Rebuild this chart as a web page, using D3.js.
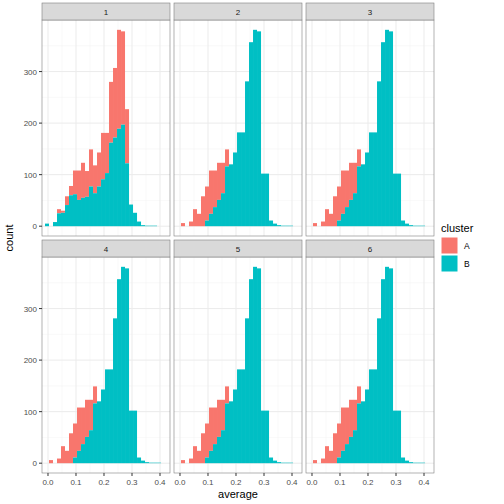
<!DOCTYPE html><html><head><meta charset="utf-8"><script src="https://cdn.jsdelivr.net/npm/d3@7"></script>
<style>body{margin:0;background:#fff}text{font-family:"Liberation Sans",Arial,sans-serif}</style></head><body><svg id="c" width="504" height="504"></svg>
<script>
const binStart = -0.0107, binWidth = 0.01429;
const panels = ["1","2","3","4","5","6"];
// per bin totals (A+B stacked) and B counts
const p1B = [5,0,8,25,26,41,60,62,51,55,57,77,64,77,91,103,162,172,189,197,122,42,26,9,2,1,1,1];
const p1T = [5,0,8,33,30,58,78,108,108,123,107,149,118,143,181,181,280,307,381,378,227,42,26,9,2,1,1,1];
const pxB = [0,0,0,0,0,0,0,11,24,37,51,64,116,120,143,182,182,281,357,381,378,102,102,11,5,2,1,1,1];
const pxT = [0,6,0,9,33,24,58,77,108,108,123,123,149,120,143,182,182,281,357,381,378,102,102,11,5,2,1,1,1];
const xTicks = [0,0.1,0.2,0.3,0.4];
const yTicks = [0,100,200,300];
const colA = "#F8766D", colB = "#00BFC4";

const svg = d3.select("#c");
const cols = [[42,170],[174,302],[306,434]];
const rows = [[3,20,236],[240,257,473]];
const x0 = d3.scaleLinear().domain([-0.0214,0.4357]);
const yS = r => d3.scaleLinear().domain([-19.05,400.05]).range([r[2],r[1]]);

panels.forEach((p,idx)=>{
  const c = cols[idx%3], r = rows[Math.floor(idx/3)];
  const x = x0.copy().range(c), y = yS(r);
  const g = svg.append("g");
  g.append("rect").attr("x",c[0]).attr("y",r[1]).attr("width",c[1]-c[0]).attr("height",r[2]-r[1]).attr("fill","#fff");
  // minor grid
  const minor = [0.05,0.15,0.25,0.35].concat([0.45]).filter(v=>x(v)<c[1]);
  minor.forEach(v=>g.append("line").attr("x1",x(v)).attr("x2",x(v)).attr("y1",r[1]).attr("y2",r[2]).attr("stroke","#F2F2F2").attr("stroke-width",0.5));
  [50,150,250,350].forEach(v=>g.append("line").attr("x1",c[0]).attr("x2",c[1]).attr("y1",y(v)).attr("y2",y(v)).attr("stroke","#F2F2F2").attr("stroke-width",0.5));
  xTicks.forEach(v=>g.append("line").attr("x1",x(v)).attr("x2",x(v)).attr("y1",r[1]).attr("y2",r[2]).attr("stroke","#EBEBEB"));
  yTicks.forEach(v=>g.append("line").attr("x1",c[0]).attr("x2",c[1]).attr("y1",y(v)).attr("y2",y(v)).attr("stroke","#EBEBEB"));
  const B = idx===0?p1B:pxB, T = idx===0?p1T:pxT;
  T.forEach((t,i)=>{
    const xa = x(binStart+i*binWidth), xb = x(binStart+(i+1)*binWidth);
    if(t>B[i]) g.append("rect").attr("x",xa).attr("width",xb-xa).attr("y",y(t)).attr("height",y(B[i])-y(t)).attr("fill",colA);
    if(B[i]>0) g.append("rect").attr("x",xa).attr("width",xb-xa).attr("y",y(B[i])).attr("height",y(0)-y(B[i])).attr("fill",colB);
  });
  g.append("rect").attr("x",c[0]).attr("y",r[1]).attr("width",c[1]-c[0]).attr("height",r[2]-r[1]).attr("fill","none").attr("stroke","#7F7F7F").attr("stroke-width",0.6);
  g.append("rect").attr("x",c[0]).attr("y",r[0]).attr("width",c[1]-c[0]).attr("height",r[1]-r[0]).attr("fill","#D9D9D9").attr("stroke","#7F7F7F").attr("stroke-width",0.6);
  g.append("text").attr("x",(c[0]+c[1])/2).attr("y",(r[0]+r[1])/2+3).attr("text-anchor","middle").attr("font-size",8).attr("fill","#1A1A1A").text(p);
  if(idx%3===0) yTicks.forEach(v=>{
    g.append("line").attr("x1",c[0]-3).attr("x2",c[0]).attr("y1",y(v)).attr("y2",y(v)).attr("stroke","#333");
    g.append("text").attr("x",c[0]-5).attr("y",y(v)+3).attr("text-anchor","end").attr("font-size",8).attr("fill","#4D4D4D").text(v);
  });
  if(idx>=3) xTicks.forEach(v=>{
    g.append("line").attr("x1",x(v)).attr("x2",x(v)).attr("y1",r[2]).attr("y2",r[2]+3).attr("stroke","#333");
    g.append("text").attr("x",x(v)).attr("y",r[2]+12).attr("text-anchor","middle").attr("font-size",8).attr("fill","#4D4D4D").text(d3.format(".1f")(v));
  });
});
svg.append("text").attr("x",238).attr("y",498).attr("text-anchor","middle").attr("font-size",11).text("average");
svg.append("text").attr("transform","translate(13,238) rotate(-90)").attr("text-anchor","middle").attr("font-size",11).text("count");
const lg = svg.append("g");
lg.append("text").attr("x",441).attr("y",232).attr("font-size",11).text("cluster");
[["A",colA],["B",colB]].forEach((d,i)=>{
  lg.append("rect").attr("x",441).attr("y",237+i*18).attr("width",17).attr("height",17).attr("fill",d[1]).attr("stroke","#fff");
  lg.append("text").attr("x",464).attr("y",249+i*18).attr("font-size",8.5).text(d[0]);
});
</script></body></html>
